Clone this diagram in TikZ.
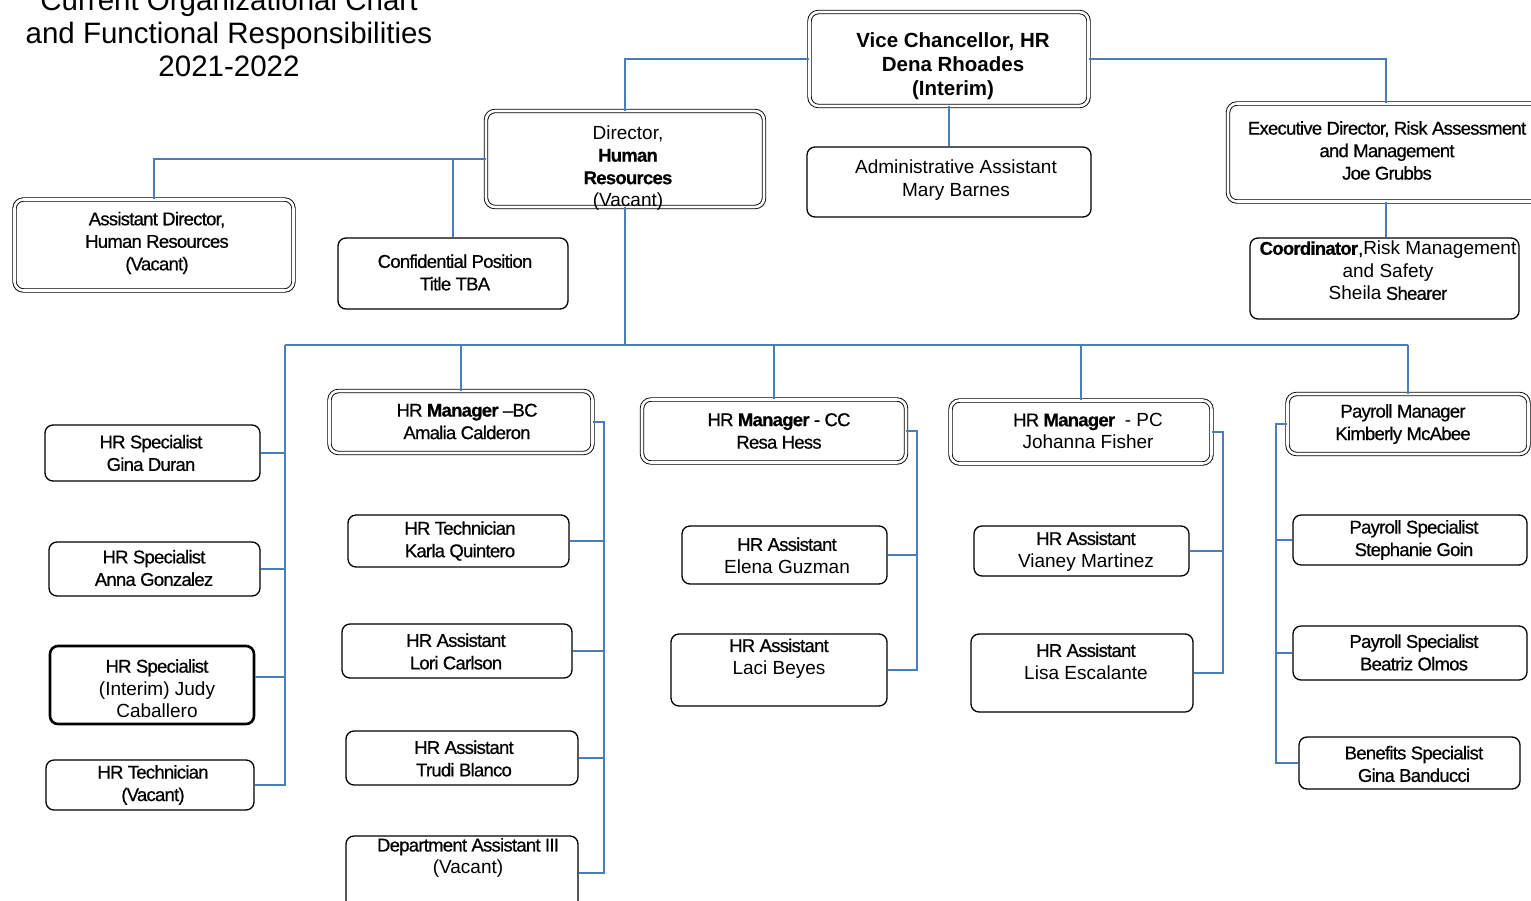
\documentclass[tikz,border=0pt]{standalone}
\usepackage{fontspec}
\setmainfont{Liberation Sans}
\newfontfamily\dkfam{Liberation Sans}[LetterSpace=-4, FakeBold=0.6]
\usetikzlibrary{fit}
\definecolor{conncol}{RGB}{74,126,187}
\newcommand\mydk{\dkfam\fontsize{18.5}{22.5}\selectfont}
\newcommand\mylt{\normalfont\fontsize{19}{22.5}\selectfont}
\newcommand\obox[6]{\node[#1, fit={(#3,#4) (#5,#6)}] (#2) {};}
\tikzset{
  sbox/.style={draw, line width=1.3pt, rounded corners=8pt, inner sep=0pt},
  dbox/.style={draw, line width=0.9pt, double=white, double distance=2.6pt, rounded corners=9pt, inner sep=0pt},
  tbox/.style={draw, line width=2.6pt, rounded corners=8pt, inner sep=0pt},
  conn/.style={draw=conncol, line width=2pt},
  txt/.style={align=center, inner sep=0pt, font=\mydk},
}
\begin{document}
\begin{tikzpicture}[x=1pt,y=-1pt]
\useasboundingbox (0,0) rectangle (1531,900);
\clip (0,0) rectangle (1531,900);

% title
\node[align=center, inner sep=0pt, font=\fontsize{29.5}{33}\selectfont] (title) at (229,33)
  {Current Organizational Chart\\and Functional Responsibilities\\2021-2022};

% top level boxes
\obox{dbox}{vc}{809.5}{12}{1088.5}{106}
\obox{dbox}{dir}{486}{111}{764}{207}
\obox{sbox}{adm}{807}{147}{1091}{217}
\obox{dbox}{exec}{1228}{103.5}{1544}{201.5}
\obox{sbox}{coord}{1250}{238}{1519}{319}
\obox{dbox}{ad}{14.5}{199.5}{293.5}{290.5}
\obox{sbox}{conf}{338}{238}{568}{309}

% left column
\obox{sbox}{gd}{45}{425}{260}{481}
\obox{sbox}{ag}{49}{542}{260}{596}
\obox{tbox}{jc}{50}{646}{254}{724}
\obox{sbox}{tv}{46}{760}{254}{810}

% BC column
\obox{dbox}{bc}{329.5}{391}{592.5}{453}
\obox{sbox}{kq}{348}{515}{569}{567}
\obox{sbox}{lc}{342}{624}{572}{678}
\obox{sbox}{tb}{346}{731}{578}{785}
\obox{sbox}{da}{346}{836}{578}{910}

% CC column
\obox{dbox}{cc}{642}{399.5}{906}{462.5}
\obox{sbox}{eg}{682}{526}{887}{584}
\obox{sbox}{lb}{671}{634}{887}{706}

% PC column
\obox{dbox}{pc}{950.5}{400.5}{1211.5}{463.5}
\obox{sbox}{vm}{974}{526}{1189}{576}
\obox{sbox}{le}{971}{634}{1193}{712}

% Payroll column
\obox{dbox}{pay}{1287.5}{394}{1528.5}{454}
\obox{sbox}{sg}{1293}{515}{1527}{565}
\obox{sbox}{bo}{1293}{626}{1527}{680}
\obox{sbox}{gb}{1299}{737}{1520}{789}

% texts
\node[txt, font=\bfseries\fontsize{20.5}{24}\selectfont] (t-vc) at (953,66.5) {Vice Chancellor, HR\\Dena Rhoades\\(Interim)};
\node[txt] (t-dir) at (628,168) {{\mylt Director,}\\{\bfseries Human}\\{\bfseries Resources}\\{\mylt (Vacant)}};
\node[txt, font=\mylt] (t-adm) at (956,180) {Administrative Assistant\\Mary Barnes};
\node[txt] (t-exec) at (1387,150.5) {Executive Director, Risk Assessment\\and Management\\Joe Grubbs};
\node[txt] (t-coord) at (1388,270.5) {{\bfseries Coordinator},{\mylt Risk Management}\\{\mylt and Safety}\\{\mylt Sheila} Shearer};
\node[txt] (t-ad) at (157,243) {Assistant Director,\\Human Resources\\(Vacant)};
\node[txt] (t-conf) at (455,272.5) {Confidential Position\\Title TBA};

\node[txt] (t-gd) at (151,453) {HR Specialist\\Gina Duran};
\node[txt] (t-ag) at (154,568) {HR Specialist\\Anna Gonzalez};
\node[txt] (t-jc) at (157,688.5) {HR Specialist\\{\mylt (Interim) Judy}\\{\mylt Caballero}};
\node[txt] (t-tv) at (153,785) {HR Technician\\(Vacant)};

\node[txt] (t-bc) at (467,421.5) {HR {\bfseries Manager} {\textendash}BC\\Amalia Calderon};
\node[txt] (t-kq) at (460,541) {HR Technician\\Karla Quintero};
\node[txt] (t-lc) at (456,651.5) {HR Assistant\\Lori Carlson};
\node[txt] (t-tb) at (464,758.5) {HR Assistant\\Trudi Blanco};
\node[txt] (t-da) at (468,858) {Department Assistant III\\{\mylt (Vacant)}};

\node[txt] (t-cc) at (779,431) {HR {\bfseries Manager} - CC\\Resa Hess};
\node[txt] (t-eg) at (787,555.5) {HR Assistant\\{\mylt Elena Guzman}};
\node[txt] (t-lb) at (779,658.5) {HR Assistant\\{\mylt Laci Beyes}};

\node[txt] (t-pc) at (1088,431) {HR {\bfseries Manager} {\mylt\ - PC}\\{\mylt Johanna Fisher}};
\node[txt] (t-vm) at (1086,551.5) {HR Assistant\\{\mylt Vianey Martinez}};
\node[txt] (t-le) at (1086,661.5) {HR Assistant\\{\mylt Lisa Escalante}};

\node[txt] (t-pay) at (1403,424) {Payroll Manager\\Kimberly McAbee};
\node[txt] (t-sg) at (1414,540) {Payroll Specialist\\Stephanie Goin};
\node[txt] (t-bo) at (1414,652.5) {Payroll Specialist\\Beatriz Olmos};
\node[txt] (t-gb) at (1414,764) {Benefits Specialist\\Gina Banducci};

% connectors: top level
\draw[conn] (vc.west) -| (dir.north);
\draw[conn] (vc.east) -| (exec.north);
\draw[conn] (vc.south) -- (vc.south |- adm.north);
\draw[conn] (dir.west) -| (ad.north);
\draw[conn] (conf.north) |- (dir.west);
\draw[conn] (exec.south) -- (exec.south |- coord.north);

% bus
\coordinate (bus) at (625,345);
\coordinate (busL) at (285,345);
\coordinate (busR) at (1408,345);
\draw[conn] (dir.south) -- (dir.south |- bus);
\draw[conn] (busL) -- (busR);
\draw[conn] (bc.north) -- (bc.north |- bus);
\draw[conn] (cc.north) -- (cc.north |- bus);
\draw[conn] (pc.north) -- (pc.north |- bus);
\draw[conn] (pay.north) -- (pay.north |- bus);

% left column
\draw[conn] (busL) |- (tv.east);
\draw[conn] (gd.east) -- (gd.east -| busL);
\draw[conn] (ag.east) -- (ag.east -| busL);
\draw[conn] ([yshift=8pt]jc.east) -- ([yshift=8pt]jc.east -| busL);

% BC column
\coordinate (bcx) at ([xshift=11.5pt]bc.east);
\draw[conn] (bc.east) -- (bcx) |- (da.east);
\draw[conn] (kq.east) -- (kq.east -| bcx);
\draw[conn] (lc.east) -- (lc.east -| bcx);
\draw[conn] (tb.east) -- (tb.east -| bcx);

% CC column
\coordinate (ccx) at ([xshift=11pt]cc.east);
\draw[conn] (cc.east) -- (ccx) |- (lb.east);
\draw[conn] (eg.east) -- (eg.east -| ccx);

% PC column
\coordinate (pcx) at ([xshift=11.5pt]pc.east);
\draw[conn] (pc.east) -- (pcx) |- (le.east);
\draw[conn] (vm.east) -- (vm.east -| pcx);

% Payroll column
\coordinate (payx) at ([xshift=-11.5pt]pay.west);
\draw[conn] (pay.west) -- (payx) |- (gb.west);
\draw[conn] (sg.west) -- (sg.west -| payx);
\draw[conn] (bo.west) -- (bo.west -| payx);
\end{tikzpicture}
\end{document}
